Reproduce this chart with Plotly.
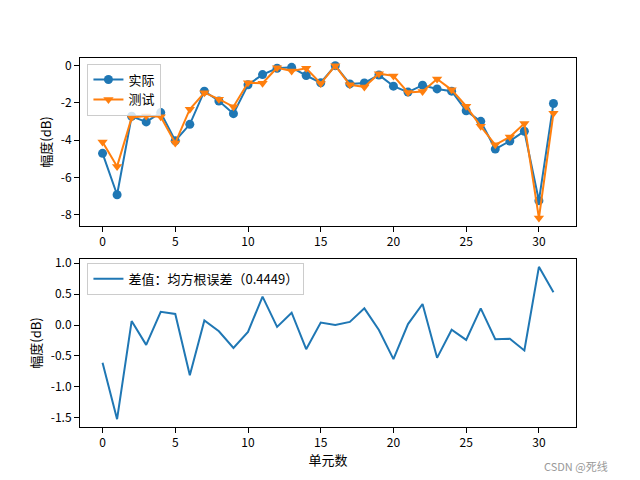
import plotly.graph_objects as go

cells = list(range(32))
actual = [-4.71, -6.93, -2.72, -3.02, -2.52, -4.03, -3.15, -1.37, -1.90, -2.58,
          -1.03, -0.48, -0.14, -0.09, -0.53, -0.92, 0.0, -0.98, -0.93, -0.50,
          -1.10, -1.42, -1.05, -1.25, -1.37, -2.42, -2.99, -4.48, -4.05, -3.52,
          -7.25, -2.03]
test = [-4.10, -5.41, -2.79, -2.70, -2.74, -4.15, -2.34, -1.45, -1.80, -2.21,
        -0.92, -0.94, -0.11, -0.29, -0.14, -0.96, 0.0, -1.03, -1.15, -0.43,
        -0.55, -1.44, -1.39, -0.72, -1.30, -2.18, -3.26, -4.25, -3.83, -3.11,
        -8.18, -2.56]
diff = [-0.61, -1.52, 0.065, -0.32, 0.215, 0.18, -0.81, 0.075, -0.10, -0.37,
        -0.11, 0.46, -0.03, 0.20, -0.39, 0.04, 0.0, 0.05, 0.27, -0.08,
        -0.55, 0.015, 0.34, -0.53, -0.075, -0.24, 0.27, -0.23, -0.22, -0.41,
        0.94, 0.53]

x_ticks = [0, 5, 10, 15, 20, 25, 30]
top_ticks = [0, -2, -4, -6, -8]
bot_ticks = [1.0, 0.5, 0.0, -0.5, -1.0, -1.5]

BLUE = "#1f77b4"
ORANGE = "#ff7f0e"
FONT = "Noto Sans CJK SC, DejaVu Sans, sans-serif"

fig = go.Figure()
fig.add_trace(go.Scatter(x=cells, y=actual, mode="lines+markers", name="实际",
                         line=dict(color=BLUE, width=2),
                         marker=dict(symbol="circle", size=9, color=BLUE),
                         xaxis="x", yaxis="y", legend="legend"))
fig.add_trace(go.Scatter(x=cells, y=test, mode="lines+markers", name="测试",
                         line=dict(color=ORANGE, width=2),
                         marker=dict(symbol="triangle-down", size=9, color=ORANGE),
                         xaxis="x", yaxis="y", legend="legend"))
fig.add_trace(go.Scatter(x=cells, y=diff, mode="lines", name="差值：均方根误差（0.4449）",
                         line=dict(color=BLUE, width=2),
                         xaxis="x2", yaxis="y2", legend="legend2"))

axis_common = dict(showline=True, linecolor="black", linewidth=1, mirror=True,
                   ticks="outside", ticklen=5, tickcolor="black", showgrid=False,
                   zeroline=False, tickfont=dict(size=12, color="black", family=FONT))

fig.update_layout(
    width=640, height=480,
    margin=dict(l=80, r=64, t=58, b=53),
    paper_bgcolor="white", plot_bgcolor="white",
    font=dict(family=FONT, size=12, color="black"),
    xaxis=dict(domain=[0, 1], anchor="y", range=[-1.55, 32.55],
               tickvals=x_ticks, ticktext=[str(t) for t in x_ticks], **axis_common),
    yaxis=dict(domain=[0.5447, 1], anchor="x", range=[-8.61, 0.41],
               tickvals=top_ticks, ticktext=[str(t) for t in top_ticks],
               title=dict(text="幅度(dB)", font=dict(size=13), standoff=6), **axis_common),
    xaxis2=dict(domain=[0, 1], anchor="y2", range=[-1.55, 32.55],
                tickvals=x_ticks, ticktext=[str(t) for t in x_ticks],
                title=dict(text="单元数", font=dict(size=13), standoff=4), **axis_common),
    yaxis2=dict(domain=[0, 0.4553], anchor="x2", range=[-1.647, 1.067],
                tickvals=bot_ticks, ticktext=["%.1f" % t for t in bot_ticks],
                title=dict(text="幅度(dB)", font=dict(size=13), standoff=6), **axis_common),
    legend=dict(x=0.015, y=0.985, xref="paper", yref="paper", xanchor="left", yanchor="top",
                bgcolor="rgba(255,255,255,0.8)", bordercolor="#cccccc", borderwidth=1,
                font=dict(size=13), tracegroupgap=0, itemwidth=30),
    legend2=dict(x=0.015, y=0.445, xref="paper", yref="paper", xanchor="left", yanchor="top",
                 bgcolor="rgba(255,255,255,0.8)", bordercolor="#cccccc", borderwidth=1,
                 font=dict(size=13), itemwidth=30),
    showlegend=True,
    annotations=[dict(text="CSDN @死线", x=1.0, y=0.0, xref="paper", yref="paper",
                      xanchor="right", yanchor="middle", showarrow=False,
                      font=dict(size=11, color="#999999"),
                      xshift=34, yshift=-39)],
)

fig.write_html("out.html")
